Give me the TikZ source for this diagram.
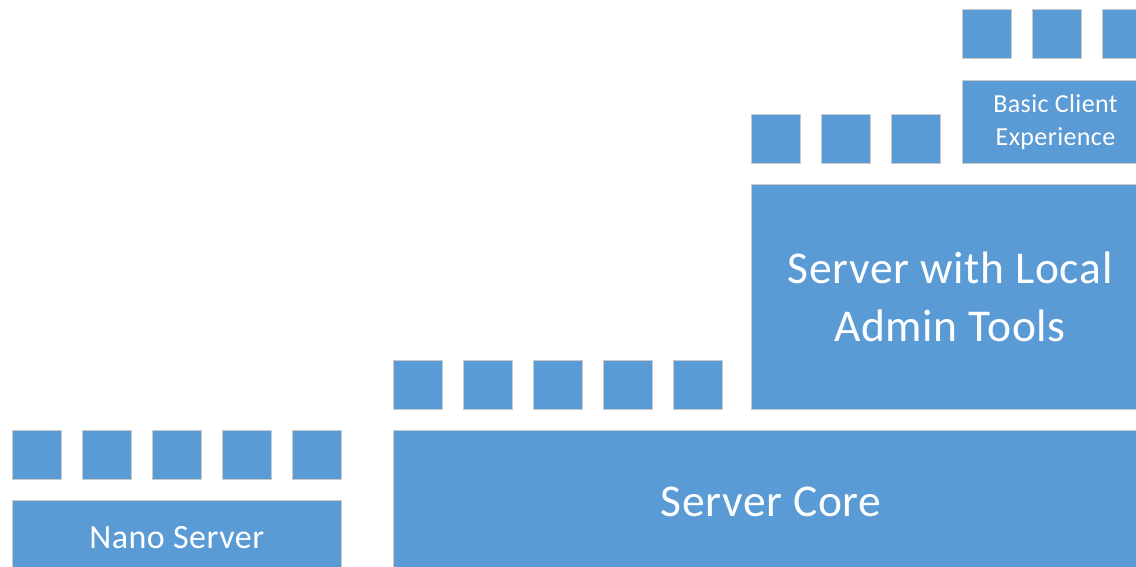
\documentclass[tikz,border=0pt]{standalone}
\usepackage{fontspec}
\setmainfont{Carlito}[LetterSpace=1.5]
\definecolor{tileblue}{HTML}{5B9BD5}
\definecolor{tileedge}{HTML}{CACACA}
\tikzset{
  tile/.style={fill=tileblue, draw=tileedge, line width=1pt, inner sep=0pt, anchor=north west},
  sq/.style={tile, minimum width=49pt, minimum height=49pt},
  panel/.style={tile, text=white, align=center}
}
\begin{document}
\begin{tikzpicture}[x=1pt,y=-1pt]
\useasboundingbox (0,0) rectangle (1136,567);
\clip (0,0) rectangle (1136,567);
% Nano Server
\foreach \k in {0,...,4}{\node[sq] (n\k) at ({11.5+70*\k},430) {};}
\node[panel, minimum width=329.5pt, minimum height=75pt, font=\fontsize{34}{40}\selectfont] (nano) at (11.5,500) {Nano Server};
% Server Core
\foreach \k in {0,...,4}{\node[sq] (c\k) at ({393+70*\k},360) {};}
\node[panel, minimum width=755pt, minimum height=142pt, font=\fontsize{45.5}{58.5}\selectfont] (core) at (393,430) {Server Core};
% Server with Local Admin Tools
\foreach \k in {0,...,2}{\node[sq] (a\k) at ({751+70*\k},114) {};}
\node[panel, minimum width=397pt, minimum height=225pt, font=\fontsize{45.5}{58.5}\selectfont] (local) at (751,184) {Server with Local\\Admin Tools};
% Basic Client Experience
\foreach \k in {0,...,2}{\node[sq] (b\k) at ({961.5+70*\k},9.5) {};}
\node[panel, minimum width=187pt, minimum height=83.5pt, font=\fontsize{26}{33.5}\selectfont] (basic) at (961.5,80) {Basic Client\\Experience};
\end{tikzpicture}
\end{document}
